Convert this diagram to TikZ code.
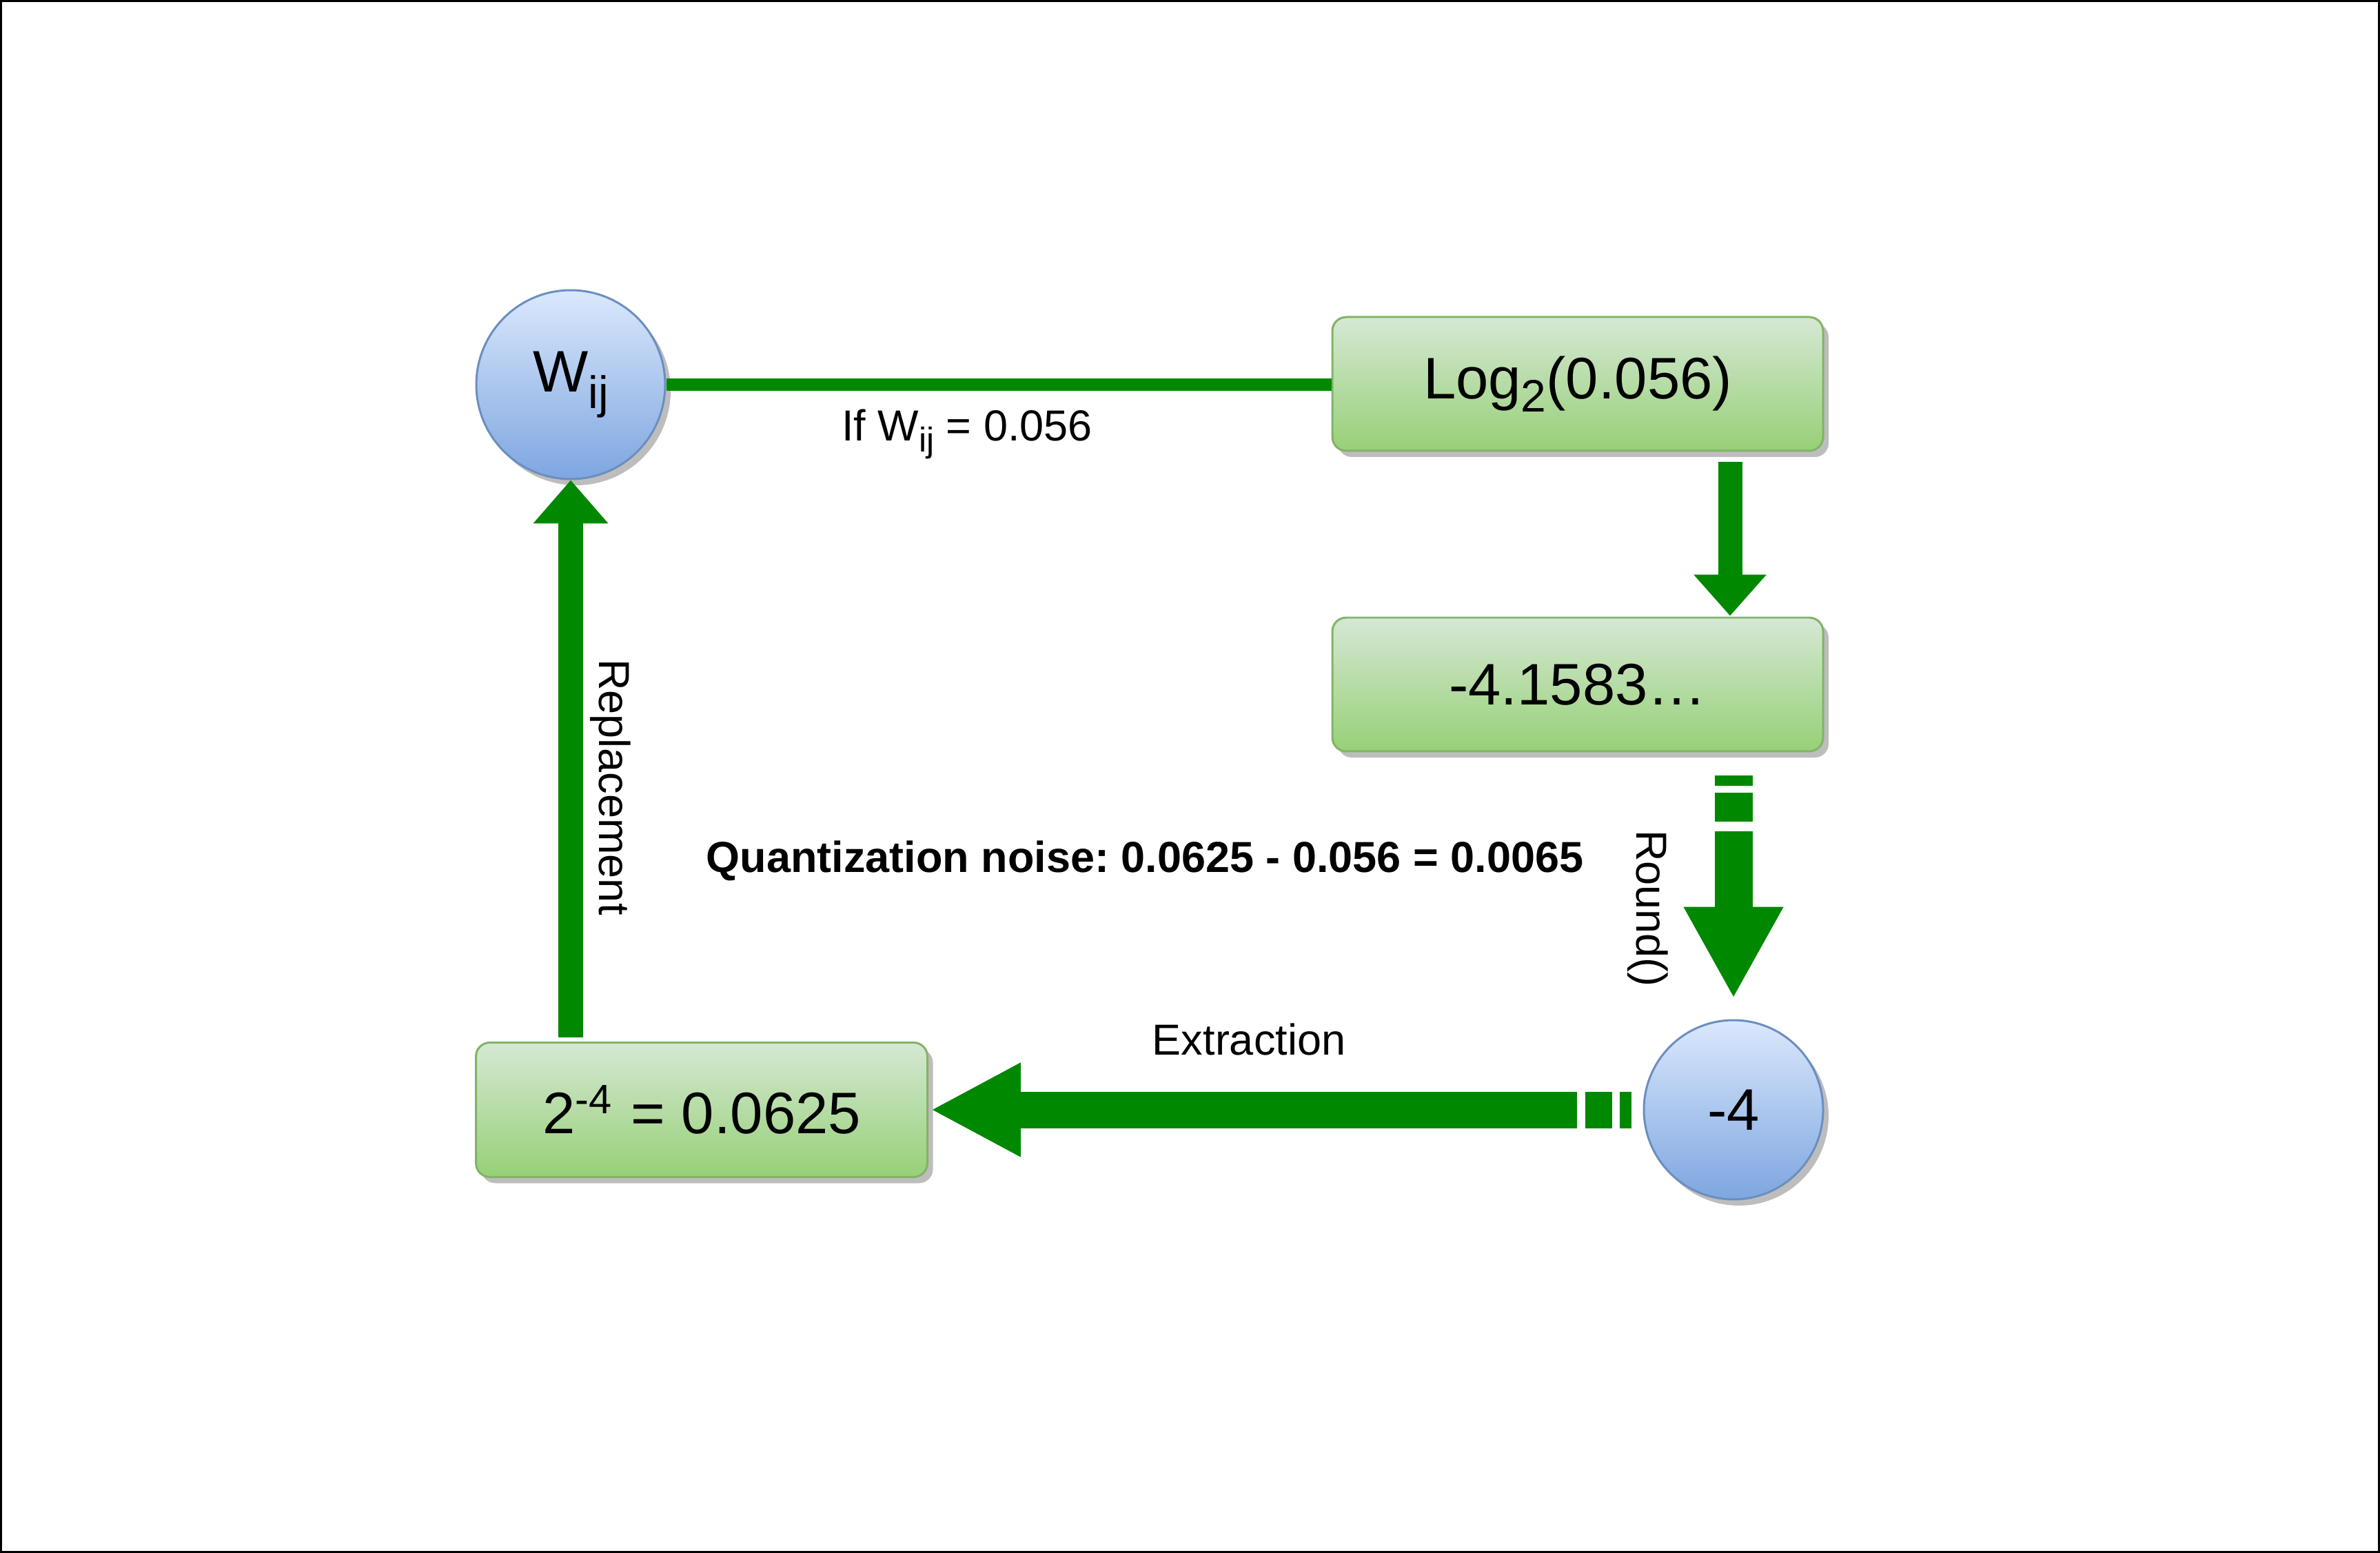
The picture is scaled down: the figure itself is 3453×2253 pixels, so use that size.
\documentclass[tikz,border=0pt]{standalone}
\usepackage{fontspec}
\setmainfont{Liberation Sans}
\usetikzlibrary{arrows.meta,shadows,calc}
\definecolor{arrowgreen}{HTML}{008800}
\definecolor{boxtop}{HTML}{D5E8D4}
\definecolor{boxbot}{HTML}{97D077}
\definecolor{boxborder}{HTML}{82B366}
\definecolor{circtop}{HTML}{DAE8FC}
\definecolor{circbot}{HTML}{7EA6E0}
\definecolor{circborder}{HTML}{6C8EBF}
\definecolor{shadowgray}{HTML}{BDBDBD}
\newcommand\lowsub[3]{\raisebox{-#2}{\fontsize{#1}{#1}\selectfont #3}}
\frenchspacing
\begin{document}
\begin{tikzpicture}[x=0.1pt,y=-0.1pt,
  shadowed/.style={drop shadow={shadow xshift=0.8pt, shadow yshift=-0.9pt, fill=shadowgray, opacity=1}},
  box/.style={rounded corners=2pt, draw=boxborder, line width=0.3pt, top color=boxtop, bottom color=boxbot,
    minimum height=19.4pt, inner sep=0pt, font=\fontsize{8.5}{10}\selectfont, shadowed},
  circ/.style={circle, draw=circborder, line width=0.3pt, top color=circtop, bottom color=circbot,
    inner sep=0pt, font=\fontsize{8.5}{10}\selectfont, shadowed},
  lbl/.style={font=\fontsize{6.3}{7.5}\selectfont, inner sep=0pt},
  flow/.style={draw=arrowgreen, fill=arrowgreen, line cap=butt}
]
\useasboundingbox (0,0) rectangle (3453,2253);
\draw[line width=0.3pt, black] (1.5,1.5) rectangle (3451.5,2251.5);

% nodes
\node[circ, minimum size=27.4pt] (w) at (828,558) {W\lowsub{6.6}{0.28em}{ij}};
\node[box, minimum width=71.2pt] (b1) at (2289,557) {Log\lowsub{6.6}{0.22em}{2}(0.056)};
\node[box, minimum width=71.2pt] (b2) at (2289,993) {-4.1583\dots};
\node[circ, minimum size=26pt] (c4) at (2515,1610) {-4};
\node[box, minimum width=65.5pt, minimum height=19.5pt] (b3) at (1018,1610) {2\textsuperscript{-4} = 0.0625};

% connectors
\draw[flow, line width=1.8pt, fill=none] (w.east) -- (w.east -| b1.west);
\draw[flow, fill=none, line width=3.5pt, -{Triangle[width=10.2pt,length=6pt]},
  shorten <=1.5pt, shorten >=0.1pt] ([xshift=-0.5pt]c4 |- b1.south) -- ([xshift=-0.5pt]c4 |- b2.north);
\draw[flow, fill=none, line width=5.5pt, -{Triangle[width=13.5pt,length=13.3pt]},
  dash pattern=on 1.5pt off 1pt on 4.2pt off 1.4pt on 100pt off 0pt,
  shorten <=3.4pt, shorten >=3pt] (c4 |- b2.south) -- (c4.north);
\draw[flow, fill=none, line width=5.3pt, -{Triangle[width=12.7pt,length=13.1pt]},
  dash pattern=on 1.7pt off 1.1pt on 3.9pt off 1.2pt on 200pt off 0pt,
  shorten <=1.7pt, shorten >=0.3pt] (c4.west) -- (b3.east);
\draw[flow, fill=none, line width=3.6pt, -{Triangle[width=10.5pt,length=6.3pt]},
  shorten <=0.6pt] (w |- b3.north) -- (w.south);

% labels
\node[lbl, anchor=base] (lif) at (1403,640) {If W\lowsub{5}{0.25em}{ij} = 0.056};
\node[lbl, rotate=-90] (lrep) at (886,1142) {Replacement};
\node[lbl, rotate=-90] (lround) at (2391,1318) {Round()};
\node[lbl, anchor=base] (lext) at (1812,1530) {Extraction};
\node[lbl, anchor=base, font=\fontsize{6.3}{7.5}\selectfont\bfseries] (lq) at (1661,1266)
  {Quantization noise: 0.0625 - 0.056 = 0.0065};
\end{tikzpicture}
\end{document}
